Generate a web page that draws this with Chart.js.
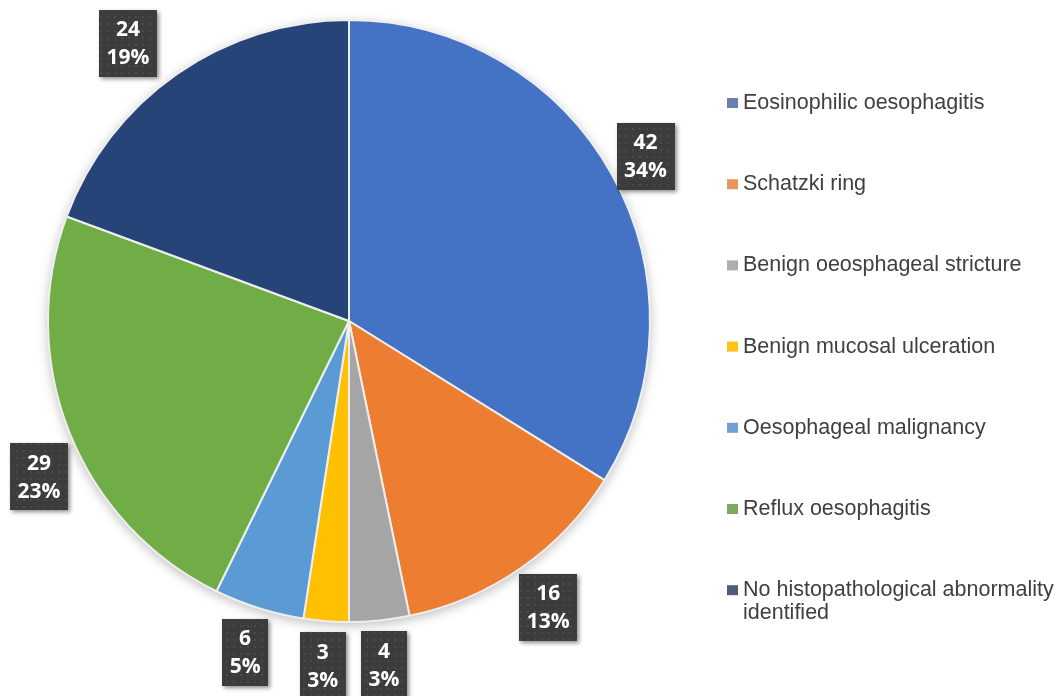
<!DOCTYPE html>
<html>
<head>
<meta charset="utf-8">
<script src="https://cdn.jsdelivr.net/npm/chart.js@4.4.0/dist/chart.umd.min.js"></script>
<style>
    html, body { margin: 0; padding: 0; background: #ffffff; }
    #wrap { width: 1059px; height: 696px; }
</style>
</head>
<body>
<div id="wrap"><canvas id="findingsPie"></canvas></div>
<script>
const categories = [
    "Eosinophilic oesophagitis",
    "Schatzki ring",
    "Benign oeosphageal stricture",
    "Benign mucosal ulceration",
    "Oesophageal malignancy",
    "Reflux oesophagitis",
    "No histopathological abnormality identified"
];
const counts = [42, 16, 4, 3, 6, 29, 24];
const percentLabels = ["34%", "13%", "3%", "3%", "5%", "23%", "19%"];

const sliceColors = ["#4472C4", "#ED7D31", "#A5A5A5", "#FFC000", "#5B9BD5", "#70AD47", "#264478"];
const legendColors = ["#6A80B0", "#E9965C", "#AEAEAE", "#FFC21A", "#6FA1D3", "#7DAA5E", "#4F5B78"];

// extra radial push for labels that sit further out than the rest
const labelExtra = [-6, -4, 0, 0, 0, 77, 34];

function makeBoxPattern(ctx) {
    const tile = document.createElement("canvas");
    tile.width = 7;
    tile.height = 7;
    const t = tile.getContext("2d");
    t.fillStyle = "#3c3c3c";
    t.fillRect(0, 0, 7, 7);
    t.fillStyle = "#4a4a4a";
    t.fillRect(2, 2, 2, 2);
    return ctx.createPattern(tile, "repeat");
}

const pieShadow = {
    id: "pieShadow",
    beforeDatasetsDraw(chart) {
        const arc = chart.getDatasetMeta(0).data[0];
        if (!arc) return;
        const ctx = chart.ctx;
        ctx.save();
        ctx.shadowColor = "rgba(0,0,0,0.28)";
        ctx.shadowBlur = 12;
        ctx.shadowOffsetY = 3;
        ctx.fillStyle = "#ffffff";
        ctx.beginPath();
        ctx.arc(arc.x, arc.y, arc.outerRadius, 0, Math.PI * 2);
        ctx.fill();
        ctx.restore();
    }
};

const valueBoxes = {
    id: "valueBoxes",
    afterDatasetsDraw(chart) {
        const ctx = chart.ctx;
        const pattern = makeBoxPattern(ctx);
        const arcs = chart.getDatasetMeta(0).data;
        ctx.save();
        ctx.font = "bold 21px 'Open Sans'";
        arcs.forEach((arc, i) => {
            const top = String(counts[i]);
            const bottom = percentLabels[i];
            const textW = Math.max(ctx.measureText(top).width, ctx.measureText(bottom).width);
            const w = Math.round(textW + 15);
            const h = 67;
            const mid = (arc.startAngle + arc.endAngle) / 2;
            const dx = Math.cos(mid);
            const dy = Math.sin(mid);
            const half = Math.min(w / 2 / Math.max(Math.abs(dx), 1e-6), h / 2 / Math.max(Math.abs(dy), 1e-6));
            const r = arc.outerRadius + 11 + half + labelExtra[i];
            let cx = arc.x + dx * r;
            let cy = arc.y + dy * r;
            cx = Math.max(cx, 10 + w / 2);
            cy = Math.max(cy, 10 + h / 2);

            const bx = Math.round(cx - w / 2);
            const by = Math.round(cy - h / 2);
            ctx.save();
            ctx.shadowColor = "rgba(0,0,0,0.45)";
            ctx.shadowBlur = 4;
            ctx.shadowOffsetX = 2;
            ctx.shadowOffsetY = 2;
            ctx.fillStyle = pattern;
            ctx.fillRect(bx, by, w, h);
            ctx.restore();

            ctx.fillStyle = "#ffffff";
            ctx.textAlign = "center";
            ctx.textBaseline = "middle";
            ctx.fillText(top, cx, cy - 13);
            ctx.fillText(bottom, cx, cy + 15);
        });
        ctx.restore();
    }
};

const sideLegend = {
    id: "sideLegend",
    afterDraw(chart) {
        const ctx = chart.ctx;
        const x = 727;
        const textX = 743;
        const maxW = chart.width - textX - 2;
        ctx.save();
        ctx.font = "21.5px 'Liberation Sans', Arial, sans-serif";
        ctx.textBaseline = "middle";
        ctx.textAlign = "left";
        categories.forEach((label, i) => {
            const y = 103 + i * 81.2;
            ctx.fillStyle = legendColors[i];
            ctx.fillRect(x, y - 5, 11, 10);

            // simple word wrap
            const words = label.split(" ");
            const lines = [];
            let line = "";
            words.forEach(word => {
                const test = line ? line + " " + word : word;
                if (ctx.measureText(test).width > maxW && line) {
                    lines.push(line);
                    line = word;
                } else {
                    line = test;
                }
            });
            lines.push(line);

            ctx.fillStyle = "#404040";
            lines.forEach((l, j) => {
                ctx.fillText(l, textX, y + j * 23);
            });
        });
        ctx.restore();
    }
};

new Chart(document.getElementById("findingsPie"), {
    type: "pie",
    data: {
        labels: categories,
        datasets: [{
            data: counts,
            backgroundColor: sliceColors,
            borderColor: "#eeeeee",
            borderWidth: 2
        }]
    },
    options: {
        responsive: true,
        maintainAspectRatio: false,
        animation: false,
        layout: {
            padding: { left: 47, top: 19, right: 408, bottom: 73 }
        },
        plugins: {
            legend: { display: false },
            tooltip: { enabled: false }
        }
    },
    plugins: [pieShadow, valueBoxes, sideLegend]
});
</script>
</body>
</html>
